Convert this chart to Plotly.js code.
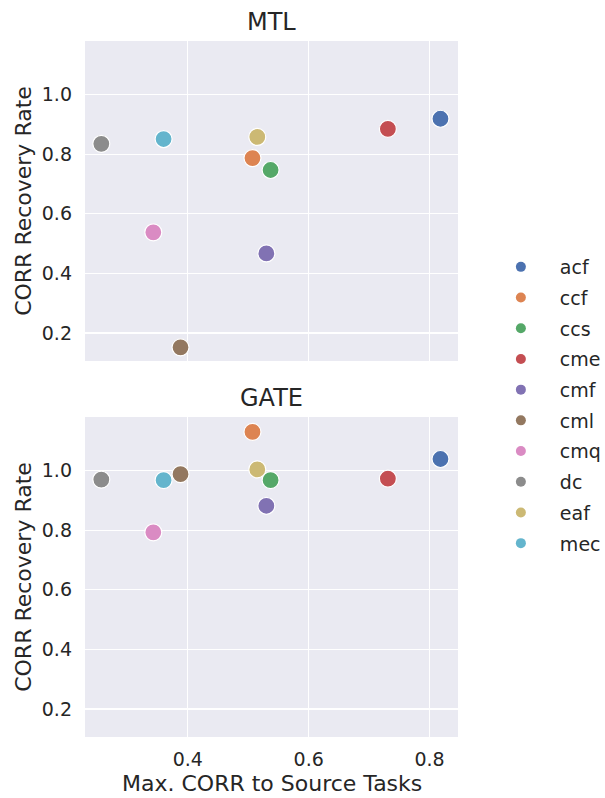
<!DOCTYPE html>
<html>
<head>
<meta charset="utf-8">
<script src="https://cdn.plot.ly/plotly-3.0.1.min.js"></script>
<style>html,body{margin:0;padding:0;background:#fff;}#chart{width:605px;height:798px;}</style>
</head>
<body>
<div id="chart"></div>
<script>
// Tasks (legend order)
const tasks = ["acf", "ccf", "ccs", "cme", "cmf", "cml", "cmq", "dc", "eaf", "mec"];
// Max. CORR to Source Tasks (same for both panels)
const maxCorr = [0.818, 0.507, 0.537, 0.731, 0.530, 0.388, 0.343, 0.257, 0.515, 0.360];
// CORR Recovery Rate, MTL panel
const mtlRecovery = [0.919, 0.787, 0.747, 0.885, 0.467, 0.152, 0.538, 0.835, 0.858, 0.851];
// CORR Recovery Rate, GATE panel
const gateRecovery = [1.039, 1.130, 0.968, 0.973, 0.882, 0.988, 0.793, 0.970, 1.004, 0.968];
const panelTitles = ["MTL", "GATE"];
const xTitle = "Max. CORR to Source Tasks";
const yTitle = "CORR Recovery Rate";
const palette = ["#4C72B0", "#DD8452", "#55A868", "#C44E52", "#8172B3", "#937860", "#DA8BC3", "#8C8C8C", "#CCB974", "#64B5CD"];

const FONT = "DejaVu Sans";
const TXT = "#262626";
const traces = [];
tasks.forEach((t, i) => {
  traces.push({
    type: "scatter", mode: "markers", name: t, legendgroup: t, showlegend: false,
    x: [maxCorr[i]], y: [mtlRecovery[i]], xaxis: "x2", yaxis: "y2",
    marker: {color: palette[i], size: 17, line: {color: "#ffffff", width: 1.2}},
    hoverinfo: "name+x+y"
  });
  traces.push({
    type: "scatter", mode: "markers", name: t, legendgroup: t, showlegend: false,
    x: [maxCorr[i]], y: [gateRecovery[i]], xaxis: "x", yaxis: "y",
    marker: {color: palette[i], size: 17, line: {color: "#ffffff", width: 1.2}},
    hoverinfo: "name+x+y"
  });
  // legend entry
  traces.push({
    type: "scatter", mode: "markers", name: t, legendgroup: t, showlegend: true,
    x: [null], y: [null], xaxis: "x", yaxis: "y",
    marker: {color: palette[i], size: 10, line: {width: 0}},
    hoverinfo: "skip"
  });
});

const xCommon = {
  range: [0.230, 0.847], tick0: 0, dtick: 0.2, showgrid: true, gridcolor: "#ffffff", gridwidth: 1.3,
  zeroline: false, showline: false, ticks: "", tickfont: {family: FONT, size: 19, color: TXT}
};
const yCommon = {
  range: [0.106, 1.180], tick0: 0, dtick: 0.2, tickformat: ".1f", showgrid: true, gridcolor: "#ffffff", gridwidth: 1.3,
  zeroline: false, showline: false, ticks: "", ticklabelstandoff: 12,
  tickfont: {family: FONT, size: 19, color: TXT},
  title: {text: yTitle, font: {family: FONT, size: 22, color: TXT}, standoff: 4}
};

const annotations = panelTitles.map((t, k) => ({
  text: t, xref: "paper", yref: "paper", x: 0.5, y: k === 0 ? 1 : 0.4598,
  xanchor: "center", yanchor: "bottom", yshift: 3, showarrow: false,
  font: {family: FONT, size: 24, color: TXT}
}));
annotations.push({
  text: xTitle, xref: "paper", yref: "paper", x: 0.5, y: 0,
  xanchor: "center", yanchor: "middle", yshift: -46, borderpad: 0, showarrow: false,
  font: {family: FONT, size: 22, color: TXT}
});

const layout = {
  width: 605, height: 798,
  margin: {l: 85, r: 147, t: 41, b: 61, autoexpand: false},
  paper_bgcolor: "#ffffff", plot_bgcolor: "#EAEAF2",
  font: {family: FONT, color: TXT},
  showlegend: true,
  xaxis: Object.assign({}, xCommon, {anchor: "y", domain: [0, 1], tickformat: ".1f", ticklabelstandoff: 9}),
  yaxis: Object.assign({}, yCommon, {anchor: "x", domain: [0, 0.4598]}),
  xaxis2: Object.assign({}, xCommon, {anchor: "y2", domain: [0, 1], matches: "x", showticklabels: false}),
  yaxis2: Object.assign({}, yCommon, {anchor: "x2", domain: [0.5402, 1]}),
  legend: {
    x: 1.064, y: 0.477, xanchor: "left", yanchor: "middle",
    bgcolor: "rgba(0,0,0,0)", borderwidth: 0,
    font: {family: FONT, size: 19, color: TXT},
    itemsizing: "trace", tracegroupgap: 3, itemwidth: 68
  },
  annotations: annotations
};

Plotly.newPlot("chart", traces, layout, {displayModeBar: false, staticPlot: true});
</script>
</body>
</html>
